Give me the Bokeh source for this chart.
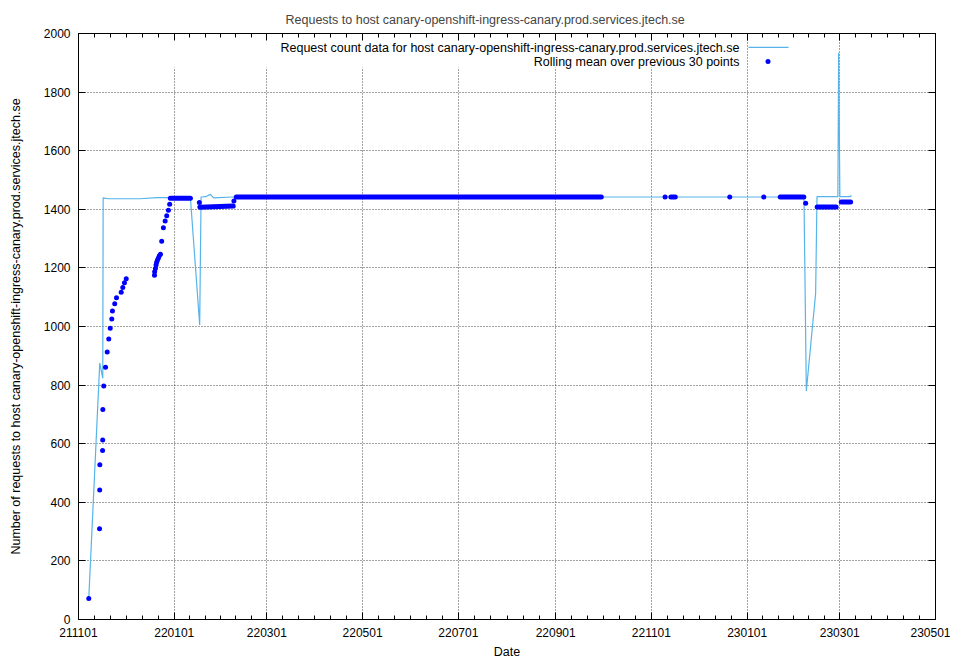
import pandas as pd
from bokeh.plotting import figure
from bokeh.models import (FixedTicker, DatetimeTickFormatter, DatetimeAxis, LinearAxis,
                          Label, BoxAnnotation, Range1d, ColumnDataSource,
                          CustomLabelingPolicy)
from bokeh.embed import file_html
from bokeh.resources import INLINE

# ---------------- texts ----------------
TITLE = "Requests to host canary-openshift-ingress-canary.prod.services.jtech.se"
YLABEL = "Number of requests to host canary-openshift-ingress-canary.prod.services.jtech.se"
XLABEL = "Date"
LEGEND_RAW = "Request count data for host canary-openshift-ingress-canary.prod.services.jtech.se"
LEGEND_MEAN = "Rolling mean over previous 30 points"

# ---------------- ticks ----------------
x_tick_dates = ["2021-11-01", "2022-01-01", "2022-03-01", "2022-05-01", "2022-07-01",
                "2022-09-01", "2022-11-01", "2023-01-01", "2023-03-01", "2023-05-01"]
y_ticks = [0, 200, 400, 600, 800, 1000, 1200, 1400, 1600, 1800, 2000]

# ---------------- raw request counts (line) ----------------
raw_dates = ["2021-11-07 13:00", "2021-11-14 13:00", "2021-11-16 11:00", "2021-11-16 17:00",
             "2021-11-20 00:00", "2021-12-10 00:00", "2021-12-21 00:00", "2022-01-11 07:00",
             "2022-01-17 05:00", "2022-01-18 02:00", "2022-01-21 00:00", "2022-01-24 00:00",
             "2022-01-26 00:00", "2022-02-07 00:00", "2022-09-30 00:00", "2023-02-06 05:00",
             "2023-02-07 17:00", "2023-02-13 15:00", "2023-02-14 12:00", "2023-02-27 19:00",
             "2023-02-28 07:00", "2023-03-01 02:00", "2023-03-07 22:00", "2023-03-08 06:00"]
raw_counts = [72, 875, 823, 1439,
              1436, 1436, 1440, 1440,
              1005, 1442, 1443, 1451,
              1439, 1442, 1442, 1442,
              780, 1113, 1443, 1443,
              1934, 1443, 1443, 1448]

# ---------------- rolling mean: isolated points ----------------
mean_dates = ["2021-11-07 13:00", "2021-11-14 10:00", "2021-11-14 12:00", "2021-11-14 14:00",
              "2021-11-16 08:00", "2021-11-16 10:00", "2021-11-16 12:00", "2021-11-17 02:00",
              "2021-11-18 05:00", "2021-11-19 07:00", "2021-11-20 07:00", "2021-11-21 05:00",
              "2021-11-22 05:00", "2021-11-22 15:00", "2021-11-24 02:00", "2021-11-25 05:00",
              "2021-11-28 05:00", "2021-11-29 05:00", "2021-11-30 07:00", "2021-12-01 10:00",
              "2021-12-19 10:00", "2021-12-19 12:00", "2021-12-20 00:00", "2021-12-20 10:00",
              "2021-12-20 19:00", "2021-12-21 07:00", "2021-12-21 22:00", "2021-12-22 12:00",
              "2021-12-23 05:00", "2021-12-24 00:00", "2021-12-25 02:00", "2021-12-26 05:00",
              "2021-12-27 05:00", "2021-12-28 07:00", "2021-12-29 02:00",
              "2022-01-17 00:00", "2022-02-08 00:00",
              "2022-11-09 17:00", "2022-12-20 22:00", "2023-01-11 14:00", "2023-02-07 07:00"]
mean_values = [72, 310, 442, 528,
               577, 613, 717, 797,
               861, 913, 957, 994,
               1026, 1053, 1078, 1098,
               1117, 1133, 1149, 1163,
               1175, 1187, 1198, 1210,
               1219, 1227, 1234, 1241,
               1247, 1291, 1337, 1360,
               1378, 1397, 1417,
               1423, 1428,
               1442, 1442, 1442, 1421]

# ---------------- rolling mean: dense runs of points ----------------
run_start = ["2021-12-29 12:00", "2022-01-17 07:00", "2022-02-09 12:00", "2022-11-13 10:00",
             "2023-01-22 02:00", "2023-02-14 14:00", "2023-03-01 22:00"]
run_end = ["2022-01-11 07:00", "2022-02-07 14:00", "2022-09-30 02:00", "2022-11-16 05:00",
           "2023-02-06 02:00", "2023-02-26 17:00", "2023-03-07 22:00"]
run_start_value = [1438, 1407, 1442, 1442, 1442, 1408, 1425]
run_end_value = [1438, 1411, 1442, 1442, 1442, 1408, 1425]

# ---------------- styles ----------------
FONT = "Liberation Sans"
LINE_COLOR = "#56b4e9"
DOT_COLOR = "#0000ff"
GRID_COLOR = "#444444"

raw_src = ColumnDataSource(dict(x=pd.to_datetime(raw_dates), y=raw_counts))
mean_src = ColumnDataSource(dict(x=pd.to_datetime(mean_dates), y=mean_values))
run_src = ColumnDataSource(dict(x0=pd.to_datetime(run_start), x1=pd.to_datetime(run_end),
                                y0=run_start_value, y1=run_end_value))

p = figure(width=950, height=661, x_axis_type="datetime",
           x_range=Range1d(pd.Timestamp(x_tick_dates[0]), pd.Timestamp(x_tick_dates[-1])),
           y_range=Range1d(y_ticks[0], y_ticks[-1]),
           output_backend="svg", toolbar_location=None,
           min_border_left=78, min_border_right=15, min_border_top=33, min_border_bottom=42)
p.background_fill_color = "white"
p.border_fill_color = "white"
p.outline_line_color = "black"
p.outline_line_width = 1

# ticks
major_ms = [pd.Timestamp(d).value / 1e6 for d in x_tick_dates]
minor_ms = []
for a, b in zip(major_ms[:-1], major_ms[1:]):
    for k in range(1, 6):
        minor_ms.append(a + (b - a) * k / 6)
xticker = FixedTicker(ticks=major_ms, minor_ticks=minor_ms)
yticker = FixedTicker(ticks=y_ticks)
fmt = "%y%m%d"
xfmt = DatetimeTickFormatter(microseconds=fmt, milliseconds=fmt, seconds=fmt, minsec=fmt,
                             minutes=fmt, hourmin=fmt, hours=fmt, days=fmt, months=fmt, years=fmt)


def style_axis(ax, labels=True):
    ax.axis_line_color = "black"
    ax.major_tick_line_color = "black"
    ax.minor_tick_line_color = "black"
    ax.major_tick_in = 7
    ax.major_tick_out = 0
    ax.minor_tick_in = 4
    ax.minor_tick_out = 0
    ax.major_label_text_font = FONT
    ax.major_label_text_font_size = "12px"
    ax.major_label_text_color = "black"
    ax.axis_label_text_font = FONT
    ax.axis_label_text_font_size = "12.5px"
    ax.axis_label_text_font_style = "normal"
    ax.axis_label_text_color = "black"
    if not labels:
        # mirrored tick marks only (gnuplot style), no labels and no extra space
        ax.major_label_policy = CustomLabelingPolicy(
            code="for (const i of Array.from(indices)) { indices.unset(i) }")
        ax.major_label_text_font_size = "0px"
        ax.major_label_standoff = 0


p.xaxis.ticker = xticker
p.xaxis.formatter = xfmt
p.yaxis.ticker = yticker
style_axis(p.xaxis[0])
style_axis(p.yaxis[0])
p.yaxis.minor_tick_line_color = None
p.xaxis.axis_label = XLABEL
p.yaxis.axis_label = YLABEL
p.xaxis.major_label_standoff = 8
p.xaxis.axis_label_standoff = 5
p.yaxis.major_label_standoff = 8
p.yaxis.axis_label_standoff = 18

top_ax = DatetimeAxis(ticker=xticker, formatter=xfmt)
style_axis(top_ax, labels=False)
p.add_layout(top_ax, "above")
right_ax = LinearAxis(ticker=yticker)
style_axis(right_ax, labels=False)
right_ax.minor_tick_line_color = None
p.add_layout(right_ax, "right")

for g in (p.xgrid[0], p.ygrid[0]):
    g.grid_line_color = GRID_COLOR
    g.grid_line_dash = "1 2"
    g.grid_line_width = 1
p.xgrid.ticker = xticker
p.ygrid.ticker = yticker

# title
p.title.text = TITLE
p.title.align = "left"
p.title.offset = 207
p.title.text_font = FONT
p.title.text_font_size = "12.5px"
p.title.text_font_style = "normal"
p.title.standoff = 14

# data
p.line("x", "y", source=raw_src, line_color=LINE_COLOR, line_width=1.2)
p.segment("x0", "y0", "x1", "y1", source=run_src, line_color=DOT_COLOR, line_width=5,
          line_cap="round")
p.scatter("x", "y", source=mean_src, size=5, fill_color=DOT_COLOR, line_color=None)

# legend (gnuplot style: text right-aligned, sample on the right); frame-relative px
p.add_layout(BoxAnnotation(left=22, right=666, bottom=552, top=586,
                           left_units="screen", right_units="screen",
                           bottom_units="screen", top_units="screen",
                           fill_color="white", fill_alpha=1, line_color=None, level="underlay"))
p.add_layout(Label(x=661, y=572, x_units="screen", y_units="screen", text=LEGEND_RAW,
                   text_align="right", text_baseline="middle", text_font=FONT,
                   text_font_size="12.5px", text_color="black"))
p.add_layout(Label(x=661, y=558, x_units="screen", y_units="screen", text=LEGEND_MEAN,
                   text_align="right", text_baseline="middle", text_font=FONT,
                   text_font_size="12.5px", text_color="black"))
p.add_layout(BoxAnnotation(left=670, right=710, bottom=571.6, top=572.8,
                           left_units="screen", right_units="screen",
                           bottom_units="screen", top_units="screen",
                           fill_color=LINE_COLOR, fill_alpha=1, line_color=None))
p.add_layout(BoxAnnotation(left=687, right=692, bottom=555.5, top=560.5,
                           left_units="screen", right_units="screen",
                           bottom_units="screen", top_units="screen",
                           fill_color=DOT_COLOR, fill_alpha=1, line_color=None,
                           border_radius=3))

open("out.html", "w").write(file_html(p, INLINE))
